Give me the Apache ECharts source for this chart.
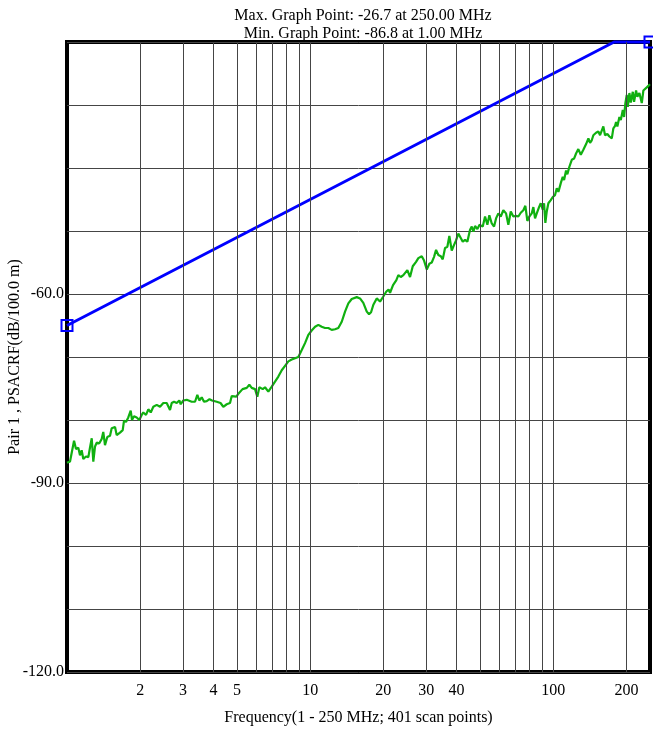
<!DOCTYPE html>
<html>
<head>
<meta charset="utf-8">
<script src="https://cdn.jsdelivr.net/npm/echarts@6/dist/echarts.min.js"></script>
<style>
  html, body { margin: 0; padding: 0; background: #fff; }
  #chart { width: 653px; height: 736px; }
</style>
</head>
<body>
<div id="chart"></div>
<script>
// Measured PSACRF for pair 1 (dB/100 m) against frequency (MHz)
const greenFreq = [
  1.00,1.029,1.069,1.089,1.113,1.131,1.149,1.167,1.197,1.224,1.243,1.264,1.283,1.304,1.325,1.358,1.389,1.410,1.433,1.465,
  1.503,1.527,1.551,1.576,1.601,1.652,1.695,1.716,1.749,1.787,1.828,1.851,1.886,1.935,1.983,2.029,2.060,2.114,2.160,2.210,
  2.265,2.339,2.413,2.490,2.571,2.653,2.696,2.755,2.827,2.897,2.936,3.009,3.107,3.258,3.362,3.436,3.501,
  3.582,3.661,3.756,3.856,3.949,4.024,4.129,4.192,4.280,4.395,4.539,4.683,4.759,4.832,4.971,5.076,5.149,5.272,5.347,5.486,
  5.623,5.752,5.851,5.934,6.065,6.181,6.384,6.524,6.731,6.951,7.172,7.400,7.642,7.885,8.135,8.402,8.668,8.943,9.236,9.529,
  9.832,10.15,10.48,10.81,11.16,11.52,11.88,12.27,12.66,13.06,13.49,13.92,14.36,14.83,15.55,16.04,16.55,17.10,17.47,17.81,
  18.20,18.79,19.39,20.00,20.58,21.02,21.32,21.93,22.63,23.06,23.59,24.18,25.11,25.76,26.43,27.27,27.87,28.78,29.42,30.18,
  30.93,31.64,32.34,32.96,33.68,34.46,35.11,35.89,36.68,37.38,38.24,39.09,39.83,40.71,41.37,42.44,43.38,44.33,45.48,46.22,
  46.93,47.69,48.74,49.77,
  51.29,52.42,53.58,54.60,55.85,57.08,58.17,59.45,60.82,62.33,63.95,65.36,66.86,68.53,70.30,71.85,73.51,75.34,76.78,78.25,
  79.75,81.58,82.83,84.17,85.54,87.67,88.84,90.54,91.66,92.80,94.03,95.48,97.67,99.54,101.7,103.4,105.0,107.4,109.4,110.8,
  112.9,114.3,116.5,119.2,121.8,124.1,126.8,129.8,133.0,136.5,139.5,141.7,144.0,146.2,150.0,153.3,155.8,158.3,160.7,163.3,
  166.9,170.2,174.1,176.7,179.6,181.3,183.5,187.1,189.6,193.2,195.6,198.0,200.6,202.6,205.7,208.4,212.4,215.0,219.1,221.8,
  226.1,231.3,234.8,238.6,242.5,250.0
];
const greenLevel = [
  -86.8,-86.6,-83.3,-84.6,-84.4,-85.6,-84.8,-86.2,-85.8,-85.9,-84.4,-82.9,-86.6,-84.2,-83.6,-83.7,-83.0,-81.9,-84.0,-82.7,
  -82.5,-81.3,-81.6,-81.1,-82.4,-82.0,-81.6,-80.1,-80.3,-79.6,-78.5,-80.0,-79.4,-79.6,-80.0,-79.2,-78.8,-79.2,-78.3,-78.8,
  -77.9,-77.6,-77.9,-77.3,-77.3,-78.4,-77.3,-77.1,-77.3,-76.9,-77.5,-76.9,-76.8,-77.1,-77.1,-76.0,-76.9,
  -76.4,-77.1,-77.0,-76.7,-76.9,-76.6,-77.1,-76.8,-77.3,-77.9,-77.5,-77.3,-76.2,-76.5,-76.3,-75.8,-75.9,-75.1,-75.2,-74.9,
  -74.4,-74.9,-74.6,-75.1,-76.3,-74.8,-75.1,-74.8,-75.5,-74.7,-73.9,-73.1,-72.1,-71.4,-70.7,-70.4,-70.2,-70.0,-68.9,-67.8,
  -66.5,-65.8,-65.2,-64.9,-65.2,-65.4,-65.4,-65.7,-65.6,-65.4,-64.4,-62.8,-61.5,-60.8,-60.5,-60.7,-61.4,-62.8,-63.2,-62.9,
  -61.7,-60.7,-61.2,-60.4,-59.6,-59.3,-59.8,-58.6,-57.8,-57.0,-57.3,-57.0,-56.2,-57.3,-55.6,-54.9,-54.3,-54.0,-54.7,-56.1,
  -55.2,-55.0,-54.1,-53.0,-53.8,-54.0,-54.5,-52.7,-52.5,-50.8,-53.1,-52.2,-51.5,-50.4,-50.1,-51.7,-51.4,-51.7,-49.8,-49.3,
  -50.1,-49.2,-49.7,-49.0,
  -49.3,-47.7,-49.0,-47.5,-48.8,-49.3,-48.0,-47.2,-47.7,-46.7,-47.2,-49.0,-46.9,-47.7,-47.6,-47.7,-47.1,-46.7,-46.0,-48.4,
  -47.7,-47.2,-46.2,-48.0,-47.2,-46.1,-45.6,-46.6,-45.6,-48.7,-46.9,-45.6,-45.1,-44.6,-44.3,-43.2,-43.8,-42.4,-41.4,-41.9,
  -40.4,-41.0,-39.8,-38.7,-38.5,-37.7,-37.0,-37.9,-37.1,-36.2,-35.3,-36.0,-35.6,-34.8,-34.4,-34.2,-34.8,-34.5,-33.4,-34.8,
  -34.6,-35.0,-35.3,-33.7,-33.3,-32.7,-33.4,-31.9,-32.4,-30.8,-31.9,-29.7,-28.4,-30.3,-28.1,-29.6,-27.9,-29.5,-27.7,-28.7,
  -28.1,-29.7,-27.7,-28.0,-27.2,-26.7
];

// Limit line (blue): breakpoints in MHz and dB
const limitFreq  = [1, 178, 250];
const limitLevel = [-65, -20, -20];

// Axis settings
const xGridValues = [2,3,4,5,6,7,8,9,10,20,30,40,50,60,70,80,90,100,200];
const xTickLabels = [2,3,4,5,10,20,30,40,100,200];
const yTickLabels = [-120,-90,-60];
const yMin = -120, yMax = -20, yStep = 10;

const FONT = 'Liberation Serif';
const GRID_COLOR = '#454545';

const greenData = greenFreq.map((f, i) => [f, greenLevel[i]]);
const limitData = limitFreq.map((f, i) => {
  const isEnd = i === 0 || i === limitFreq.length - 1;
  return { value: [f, limitLevel[i]], symbol: isEnd ? 'rect' : 'none' };
});

// Extremes of the measured trace for the header
let maxI = 0, minI = 0;
greenLevel.forEach((v, i) => {
  if (v > greenLevel[maxI]) maxI = i;
  if (v < greenLevel[minI]) minI = i;
});
const headerText =
  'Max. Graph Point: ' + greenLevel[maxI].toFixed(1) + ' at ' + greenFreq[maxI].toFixed(2) + ' MHz\n' +
  'Min. Graph Point: ' + greenLevel[minI].toFixed(1) + ' at ' + greenFreq[minI].toFixed(2) + ' MHz';

const chart = echarts.init(document.getElementById('chart'), null, { renderer: 'canvas' });

chart.setOption({
  animation: false,
  backgroundColor: '#fff',
  textStyle: { fontFamily: FONT },
  title: {
    text: headerText,
    left: 358,
    top: 2,
    textAlign: 'center',
    textStyle: { fontFamily: FONT, fontSize: 16, fontWeight: 'normal', color: '#000', lineHeight: 18 }
  },
  grid: {
    left: 67, right: 3, top: 42, bottom: 64,
    containLabel: false,
    outerBoundsMode: 'none',
    show: true,
    borderColor: '#000',
    borderWidth: 4,
    backgroundColor: 'transparent'
  },
  xAxis: {
    type: 'log',
    logBase: 10,
    min: 1,
    max: 250,
    name: 'Frequency(1 - 250 MHz; 401 scan points)',
    nameLocation: 'middle',
    nameGap: 38,
    nameMoveOverlap: false,
    nameTextStyle: { fontFamily: FONT, fontSize: 16, color: '#000' },
    axisLine: { show: false },
    axisTick: { show: false },
    axisLabel: { show: false },
    splitLine: { show: false }
  },
  yAxis: {
    type: 'value',
    min: yMin,
    max: yMax,
    interval: yStep,
    name: 'Pair 1 , PSACRF(dB/100.0 m)',
    nameLocation: 'middle',
    nameGap: 44,
    nameMoveOverlap: false,
    nameTextStyle: { fontFamily: FONT, fontSize: 16, color: '#000' },
    axisLine: { show: false },
    axisTick: { show: false },
    axisLabel: {
      margin: 3,
      fontFamily: FONT,
      fontSize: 16,
      color: '#000',
      formatter: v => (yTickLabels.indexOf(v) >= 0 ? v.toFixed(1) : '')
    },
    splitLine: { show: true, lineStyle: { color: GRID_COLOR, width: 1 } }
  },
  series: [
    {
      // vertical grid lines of the log frequency axis, with their labels
      type: 'line',
      data: [],
      silent: true,
      markLine: {
        silent: true,
        symbol: ['none', 'none'],
        animation: false,
        lineStyle: { color: GRID_COLOR, width: 1, type: 'solid' },
        label: {
          show: true,
          position: 'start',
          distance: 11,
          fontFamily: FONT,
          fontSize: 16,
          color: '#000',
          formatter: p => (xTickLabels.indexOf(p.value) >= 0 ? String(p.value) : '')
        },
        emphasis: { disabled: true },
        data: xGridValues.map(v => ({ xAxis: v }))
      }
    },
    {
      name: 'PSACRF',
      type: 'line',
      data: greenData,
      showSymbol: false,
      smooth: false,
      lineStyle: { color: '#10b010', width: 2.2 },
      z: 3
    },
    {
      name: 'Limit',
      type: 'line',
      data: limitData,
      clip: false,
      symbolSize: 11,
      lineStyle: { color: '#0000ff', width: 3 },
      itemStyle: { color: 'rgba(255,255,255,0)', borderColor: '#0000ff', borderWidth: 2 },
      z: 4
    }
  ]
});
</script>
</body>
</html>
